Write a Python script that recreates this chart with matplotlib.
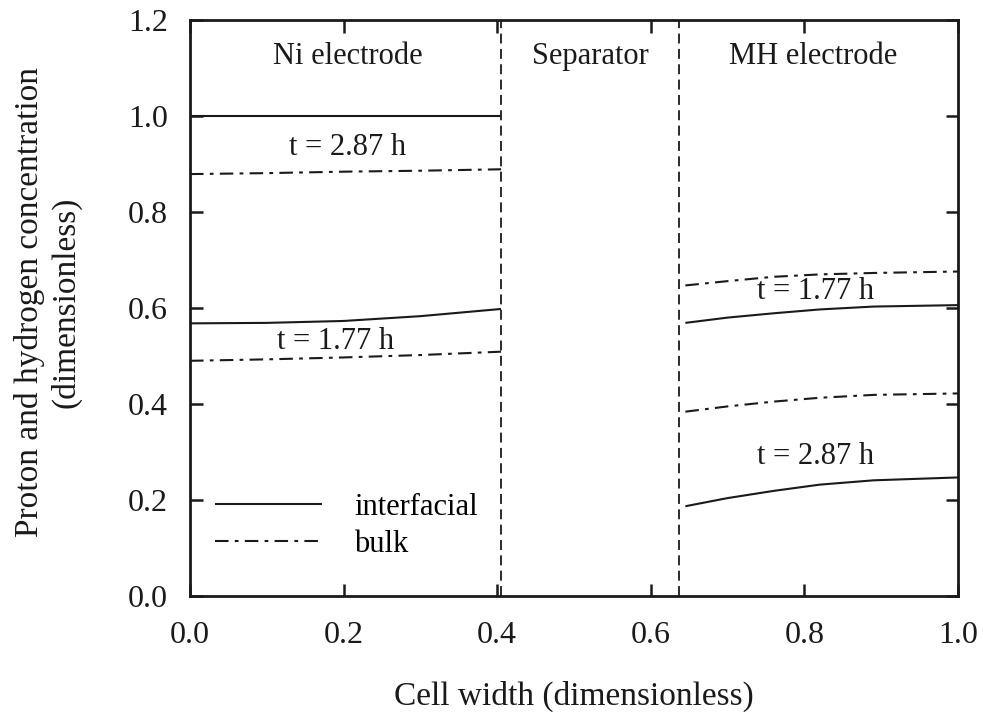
import matplotlib
matplotlib.use("Agg")
import matplotlib.pyplot as plt

plt.rcParams["font.family"] = ["Liberation Serif", "DejaVu Serif"]
plt.rcParams["mathtext.fontset"] = "stix"

# Region boundaries (dimensionless cell width)
ni_sep_boundary = 0.405
sep_mh_boundary = 0.637

# Ni electrode profiles
x_ni = [0.0, 0.1, 0.2, 0.3, 0.405]
ni_int_287 = [1.0, 1.0, 1.0, 1.0, 1.0]
ni_bulk_287 = [0.879, 0.881, 0.884, 0.886, 0.889]
ni_int_177 = [0.568, 0.569, 0.573, 0.583, 0.598]
ni_bulk_177 = [0.490, 0.493, 0.497, 0.502, 0.509]

# MH electrode profiles
x_mh = [0.645, 0.70, 0.76, 0.82, 0.89, 1.0]
mh_bulk_177 = [0.647, 0.656, 0.665, 0.670, 0.673, 0.676]
mh_int_177 = [0.569, 0.580, 0.589, 0.597, 0.603, 0.606]
mh_bulk_287 = [0.384, 0.395, 0.405, 0.413, 0.419, 0.422]
mh_int_287 = [0.187, 0.204, 0.219, 0.232, 0.241, 0.247]

x_ticks = [0.0, 0.2, 0.4, 0.6, 0.8, 1.0]
y_ticks = [0.0, 0.2, 0.4, 0.6, 0.8, 1.0, 1.2]

fig = plt.figure(figsize=(9.83, 7.21), dpi=100)
ax = fig.add_axes([190 / 983, 1 - 596 / 721, 768 / 983, 576 / 721])

lw = 1.5
dashdot = (6.5, 3.0, 1.8, 3.0)
solid_kw = dict(color="#1a1a1a", lw=lw, solid_capstyle="butt")
dd_kw = dict(color="#1a1a1a", lw=lw, dashes=dashdot, dash_capstyle="butt")

ax.plot(x_ni, ni_int_287, **solid_kw, label="interfacial")
ax.plot(x_ni, ni_bulk_287, **dd_kw, label="bulk")
ax.plot(x_ni, ni_int_177, **solid_kw)
ax.plot(x_ni, ni_bulk_177, **dd_kw)
ax.plot(x_mh, mh_bulk_177, **dd_kw)
ax.plot(x_mh, mh_int_177, **solid_kw)
ax.plot(x_mh, mh_bulk_287, **dd_kw)
ax.plot(x_mh, mh_int_287, **solid_kw)

for xb in (ni_sep_boundary, sep_mh_boundary):
    ax.axvline(xb, color="#1a1a1a", lw=1.3, dashes=(5.5, 3.0))

txt_kw = dict(fontsize=22, ha="center", va="center", color="#1a1a1a")
ax.text(0.205, 1.123, "Ni electrode", **txt_kw)
ax.text(0.521, 1.123, "Separator", **txt_kw)
ax.text(0.811, 1.123, "MH electrode", **txt_kw)
ax.text(0.205, 0.934, "t = 2.87 h", **txt_kw)
ax.text(0.190, 0.531, "t = 1.77 h", **txt_kw)
ax.text(0.814, 0.634, "t = 1.77 h", **txt_kw)
ax.text(0.814, 0.290, "t = 2.87 h", **txt_kw)

ax.set_xlim(0, 1.0)
ax.set_ylim(0, 1.2)
ax.set_xticks(x_ticks)
ax.set_yticks(y_ticks)
ax.set_xticklabels([f"{v:.1f}" for v in x_ticks])
ax.set_yticklabels([f"{v:.1f}" for v in y_ticks])
ax.tick_params(direction="in", length=9, width=1.8, top=True, right=True,
               labelsize=23, colors="#1a1a1a")
ax.tick_params(axis="x", pad=18)
ax.tick_params(axis="y", pad=16)
for sp in ax.spines.values():
    sp.set_linewidth(2.0)
    sp.set_color("#1a1a1a")

ax.set_xlabel("Cell width (dimensionless)", fontsize=24, labelpad=22,
              color="#1a1a1a")
fig.text(48 / 983, 1 - 302 / 721,
         "Proton and hydrogen concentration\n(dimensionless)",
         rotation=90, ha="center", va="center", fontsize=24,
         multialignment="center", linespacing=1.2, color="#1a1a1a")

ax.legend(loc="lower left", bbox_to_anchor=(25 / 768, 0.065), frameon=False,
          fontsize=22, handlelength=3.5, handletextpad=1.05,
          labelspacing=0.25, borderpad=0, borderaxespad=0)

fig.savefig("out.png", dpi=100)
